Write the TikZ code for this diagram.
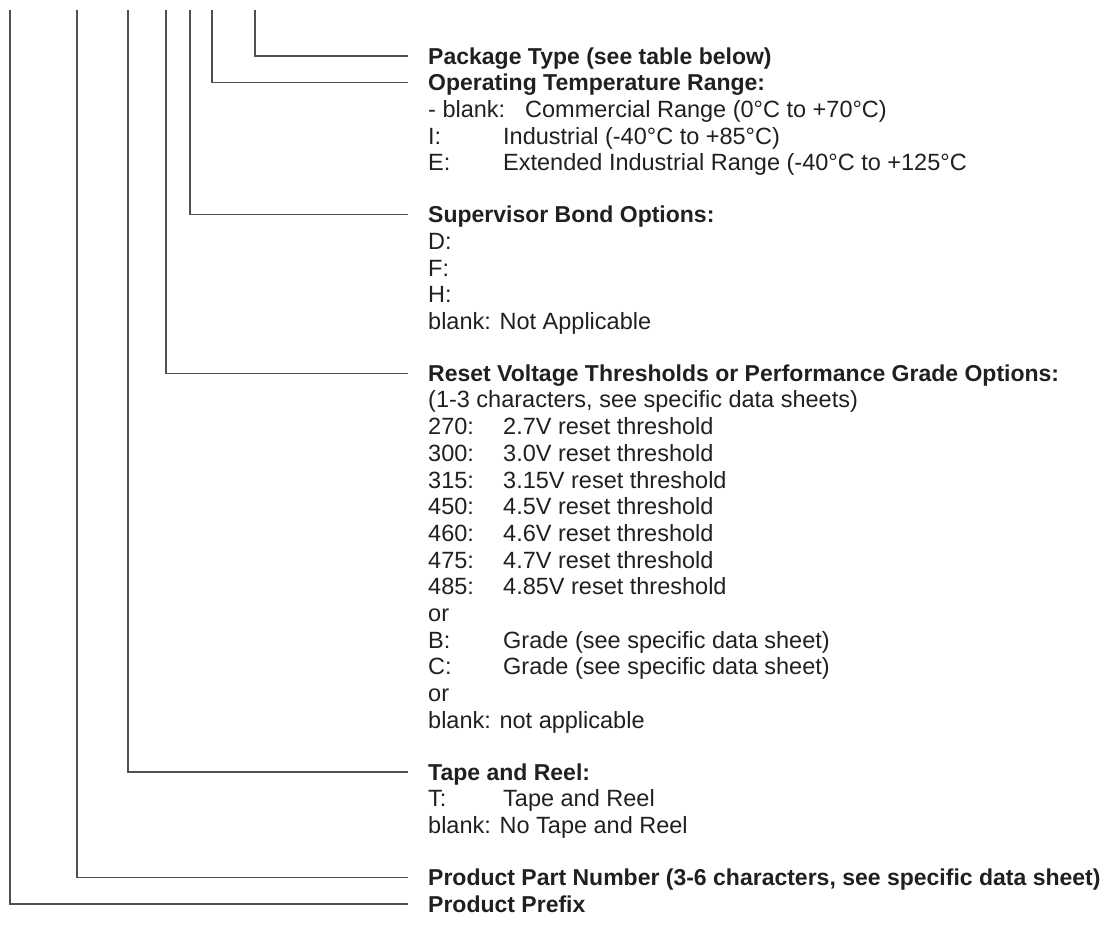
\documentclass[tikz,border=0pt]{standalone}
\usepackage{fontspec}
\setmainfont{Liberation Sans}
\usetikzlibrary{positioning}
\definecolor{inktext}{HTML}{231F20}
\definecolor{inklead}{HTML}{505050}
\newcommand{\optkey}[3][75pt]{\makebox[#1][l]{#2}#3}

\begin{document}
\begin{tikzpicture}[x=1pt, y=-1pt,
        every node/.style={inner sep=0pt, anchor=west, text depth=0pt, text height=16pt, text=inktext},
        head/.style={font=\fontsize{23}{26}\selectfont\bfseries},
        item/.style={font=\fontsize{23.5}{26}\selectfont},
        lead/.style={draw=inklead, line width=1.3pt, shorten >=20pt}]
        \useasboundingbox (0,0) rectangle (1108,938);
        % tops of the leads
        \coordinate (pfxtop) at (10,10);
        \coordinate (parttop) at (77,10);
        \coordinate (tapetop) at (128,10);
        \coordinate (rsttop) at (166,10);
        \coordinate (suptop) at (190,10);
        \coordinate (tmptop) at (212,10);
        \coordinate (pkgtop) at (255,10);
        % headings
        \node[head] (pkg) at (428,56) {Package Type (see table below)};
        \node[head] (tmp) at (428,82.7) {Operating Temperature Range:};
        \node[item] (tmpa) at (428,109.4) {\optkey[97pt]{- blank:}{Commercial Range (0°C to +70°C)}};
        \node[item] (tmpb) at (428,136.1) {\optkey{I:}{Industrial (-40°C to +85°C)}};
        \node[item] (tmpc) at (428,162.8) {\optkey{E:}{Extended Industrial Range (-40°C to +125°C}};
        \node[head] (sup) at (428,214.6) {Supervisor Bond Options:};
        \node[item] (supa) at (428,241.3) {D:};
        \node[item] (supb) at (428,268) {F:};
        \node[item] (supc) at (428,294.7) {H:};
        \node[item] (supd) at (428,321.4) {blank: Not Applicable};
        \node[head] (rst) at (428,373.2) {Reset Voltage Thresholds or Performance Grade Options:};
        \node[item] (rst0) at (428,399.9) {(1-3 characters, see specific data sheets)};
        \node[item] (rst1) at (428,426.6) {\optkey{270:}{2.7V reset threshold}};
        \node[item] (rst2) at (428,453.3) {\optkey{300:}{3.0V reset threshold}};
        \node[item] (rst3) at (428,480) {\optkey{315:}{3.15V reset threshold}};
        \node[item] (rst4) at (428,506.7) {\optkey{450:}{4.5V reset threshold}};
        \node[item] (rst5) at (428,533.4) {\optkey{460:}{4.6V reset threshold}};
        \node[item] (rst6) at (428,560.1) {\optkey{475:}{4.7V reset threshold}};
        \node[item] (rst7) at (428,586.8) {\optkey{485:}{4.85V reset threshold}};
        \node[item] (rst8) at (428,613.5) {or};
        \node[item] (rst9) at (428,640.2) {\optkey{B:}{Grade (see specific data sheet)}};
        \node[item] (rst10) at (428,666.9) {\optkey{C:}{Grade (see specific data sheet)}};
        \node[item] (rst11) at (428,693.6) {or};
        \node[item] (rst12) at (428,720.3) {blank: not applicable};
        \node[head] (tape) at (428,772.1) {Tape and Reel:};
        \node[item] (tapea) at (428,798.8) {\optkey{T:}{Tape and Reel}};
        \node[item] (tapeb) at (428,825.5) {blank: No Tape and Reel};
        \node[head] (part) at (428,877.3) {Product Part Number (3-6 characters, see specific data sheet)};
        \node[head] (pfx) at (428,904) {Product Prefix};
        % leads
        \draw[lead] (pkgtop) |- (pkg.west);
        \draw[lead] (tmptop) |- (tmp.west);
        \draw[lead] (suptop) |- (sup.west);
        \draw[lead] (rsttop) |- (rst.west);
        \draw[lead] (tapetop) |- (tape.west);
        \draw[lead] (parttop) |- (part.west);
        \draw[lead] (pfxtop) |- (pfx.west);
\end{tikzpicture}
\end{document}
